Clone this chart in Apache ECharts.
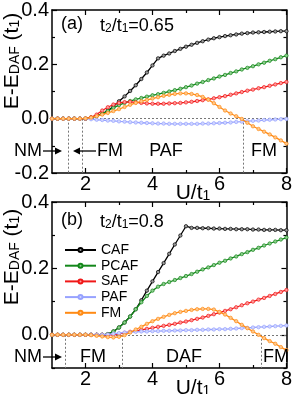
<!DOCTYPE html>
<html><head><meta charset="utf-8">
<script src="https://cdn.jsdelivr.net/npm/echarts@6/dist/echarts.min.js"></script>
<style>html,body{margin:0;padding:0;background:#fff}#c{width:295px;height:394px}</style>
</head><body><div id="c"></div>
<script>
const U = [1.000,1.167,1.333,1.500,1.667,1.833,2.000,2.167,2.333,2.500,2.667,2.833,3.000,3.167,3.333,3.500,3.667,3.833,4.000,4.167,4.333,4.500,4.667,4.833,5.000,5.167,5.333,5.500,5.667,5.833,6.000,6.167,6.333,6.500,6.667,6.833,7.000,7.167,7.333,7.500,7.667,7.833,8.000];
const names = ['CAF','PCAF','SAF','PAF','FM'];
const colors = ['#000000','#13871a','#f01818','#97a2ff','#ff8a14'];
const fills  = ['#9a9a9a','#8fcf8f','#ff9a9a','#d0d6ff','#ffc88a'];
const xTicks = [2,4,6,8];
const xMinor = [3,5,7];

// panel (a) t2/t1 = 0.65
const A_CAF  = [0,0,0,0,0,0,0,0.004,0.010,0.018,0.030,0.045,0.064,0.082,0.102,0.123,0.146,0.170,0.196,0.222,0.232,0.240,0.249,0.257,0.265,0.272,0.279,0.285,0.291,0.296,0.300,0.304,0.307,0.310,0.313,0.315,0.317,0.318,0.319,0.320,0.321,0.322,0.322];
const A_PCAF = [0,0,0,0,0,0,0,0.004,0.010,0.018,0.028,0.040,0.050,0.058,0.065,0.071,0.076,0.081,0.086,0.090,0.095,0.100,0.105,0.110,0.116,0.122,0.129,0.135,0.142,0.148,0.155,0.161,0.168,0.174,0.181,0.187,0.193,0.200,0.206,0.213,0.219,0.226,0.232];
const A_SAF  = [0,0,0,0,0,0,0,0.005,0.015,0.030,0.042,0.052,0.058,0.061,0.062,0.060,0.058,0.056,0.055,0.055,0.055,0.056,0.057,0.058,0.060,0.062,0.065,0.068,0.071,0.075,0.079,0.083,0.088,0.093,0.098,0.103,0.107,0.112,0.116,0.121,0.126,0.131,0.135];
const A_PAF  = [0,0,0,0,0,0,0,-0.002,-0.004,-0.005,-0.007,-0.008,-0.010,-0.011,-0.013,-0.014,-0.015,-0.016,-0.017,-0.018,-0.018,-0.019,-0.019,-0.019,-0.019,-0.019,-0.019,-0.018,-0.018,-0.017,-0.016,-0.015,-0.014,-0.012,-0.011,-0.009,-0.008,-0.007,-0.005,-0.004,-0.003,-0.002,-0.001];
const A_FM   = [0,0,0,0,0,0,0.001,0.004,0.009,0.015,0.021,0.028,0.035,0.043,0.051,0.058,0.064,0.069,0.074,0.079,0.084,0.088,0.091,0.093,0.093,0.091,0.087,0.080,0.070,0.057,0.043,0.030,0.019,0.009,-0.001,-0.015,-0.028,-0.038,-0.048,-0.058,-0.069,-0.080,-0.092];

// panel (b) t2/t1 = 0.8
const B_CAF  = [0,0,0,0,0,0,0,0,0,0,0.002,0.010,0.022,0.037,0.055,0.077,0.104,0.133,0.161,0.189,0.216,0.244,0.272,0.299,0.327,0.322,0.322,0.321,0.321,0.320,0.320,0.319,0.319,0.318,0.318,0.318,0.317,0.317,0.316,0.316,0.316,0.315,0.315];
const B_PCAF = [0,0,0,0,0,0,0,0,0,0,0.002,0.010,0.022,0.037,0.055,0.077,0.098,0.117,0.133,0.145,0.153,0.159,0.165,0.171,0.177,0.183,0.190,0.197,0.203,0.210,0.217,0.223,0.230,0.236,0.243,0.249,0.256,0.262,0.269,0.275,0.281,0.287,0.293];
const B_SAF  = [0,0,0,0,0,0,0,0,0,0,0,0,0.003,0.006,0.009,0.012,0.015,0.018,0.021,0.024,0.027,0.030,0.033,0.037,0.040,0.044,0.048,0.052,0.057,0.062,0.067,0.072,0.077,0.083,0.089,0.095,0.100,0.106,0.111,0.117,0.123,0.129,0.135];
const B_PAF  = [0,0,0,0,0,0,0,0,0,0,0.001,0.003,0.005,0.007,0.008,0.009,0.010,0.010,0.011,0.011,0.012,0.012,0.013,0.013,0.014,0.014,0.015,0.015,0.016,0.016,0.017,0.017,0.018,0.019,0.020,0.021,0.022,0.023,0.024,0.025,0.026,0.027,0.028];
const B_FM   = [0,0,0,0,0,0,0,-0.001,-0.003,-0.005,-0.007,-0.008,-0.006,-0.001,0.007,0.016,0.024,0.033,0.041,0.048,0.054,0.060,0.065,0.069,0.072,0.075,0.077,0.078,0.078,0.076,0.069,0.061,0.051,0.041,0.030,0.020,0.010,0.000,-0.010,-0.019,-0.027,-0.037,-0.046];

// phase boundaries (U/t1)
const A_bounds = [1.5, 1.9, 6.7];
const B_bounds = [1.4, 3.1, 7.25];

const FONT = "'Liberation Sans', Arial, sans-serif";
const chart = echarts.init(document.getElementById('c'), null, {renderer:'canvas'});

const grids = [
  {left:52, top:5, width:238, height:168},
  {left:52, top:202, width:238, height:166}
];
function xAx(g, pos, vals, len, labels, line){
  return {type:'value', gridIndex:g, min:1, max:8, interval:1, position:pos,
    axisLine:{show:line, onZero:false, lineStyle:{color:'#000', width:1.5}},
    axisTick:{show:true, inside:true, length:len, customValues:vals, lineStyle:{color:'#000', width:1.2}},
    axisLabel:{show:labels, customValues:xTicks, color:'#000', fontSize:20, fontFamily:FONT, margin:1},
    splitLine:{show:false}};
}
function yAx(g, pos, min, max, major, minor, labels, line){
  return {type:'value', gridIndex:g, min:min, max:max, interval:0.1, position:pos,
    axisLine:{show:line, onZero:false, lineStyle:{color:'#000', width:1.5}},
    axisTick:{show:true, inside:true, length: minor ? 3 : 5, customValues: minor || major, lineStyle:{color:'#000', width:1.2}},
    axisLabel:{show:labels, customValues:major, color:'#000', fontSize:20, fontFamily:FONT, margin:3,
      formatter: v => Math.abs(v) < 1e-9 ? '0.0' : v.toFixed(1)},
    splitLine:{show:false}};
}
const xAxis = [
  xAx(0,'bottom',xTicks,5,true,true), xAx(0,'bottom',xMinor,3,false,false),
  xAx(0,'top',xTicks,5,false,true),   xAx(0,'top',xMinor,3,false,false),
  xAx(1,'bottom',xTicks,5,true,true), xAx(1,'bottom',xMinor,3,false,false),
  xAx(1,'top',xTicks,5,false,true),   xAx(1,'top',xMinor,3,false,false)
];
const aMaj=[-0.2,0,0.2,0.4], aMin=[-0.1,0.1,0.3];
const bMaj=[0,0.2,0.4], bMin=[-0.1,0.1,0.3];
const yAxis = [
  yAx(0,'left',-0.2,0.4,aMaj,null,true,true), yAx(0,'left',-0.2,0.4,aMaj,aMin,false,false),
  yAx(0,'right',-0.2,0.4,aMaj,null,false,true), yAx(0,'right',-0.2,0.4,aMaj,aMin,false,false),
  yAx(1,'left',-0.1,0.4,bMaj,null,true,true), yAx(1,'left',-0.1,0.4,bMaj,bMin,false,false),
  yAx(1,'right',-0.1,0.4,bMaj,null,false,true), yAx(1,'right',-0.1,0.4,bMaj,bMin,false,false)
];

function mkSeries(vals, i, xi, yi, markLine){
  const s = {type:'line', name:names[i], xAxisIndex:xi, yAxisIndex:yi,
    data: U.map((u,k)=>[u, vals[k]]),
    symbol:'circle', symbolSize:3.4, showSymbol:true,
    lineStyle:{color:colors[i], width:1.3},
    itemStyle:{color:fills[i], borderColor:colors[i], borderWidth:0.7},
    emphasis:{disabled:true}, animation:false, z: 2+i};
  if (markLine) s.markLine = markLine;
  return s;
}
function mkMark(bounds, ymin){
  const d = [{yAxis:0}];
  bounds.forEach(b => d.push([{coord:[b,0]},{coord:[b,ymin]}]));
  return {silent:true, symbol:['none','none'], label:{show:false}, animation:false,
    lineStyle:{type:[2,2], color:'#777', width:1}, data:d, z:1};
}
const series = [];
[A_CAF,A_PCAF,A_SAF,A_PAF,A_FM].forEach((v,i)=>series.push(mkSeries(v,i,0,0, i===0?mkMark(A_bounds,-0.2):null)));
[B_CAF,B_PCAF,B_SAF,B_PAF,B_FM].forEach((v,i)=>series.push(mkSeries(v,i,4,4, i===0?mkMark(B_bounds,-0.1):null)));

function txt(x,y,t,size,align,rich,rot){
  const o = {type:'text', x:x, y:y, silent:true, z:100,
    style:{text:t, fontSize:size, fontFamily:FONT, fill:'#000', align:align||'center', verticalAlign:'middle', rich:rich}};
  if (rot) o.rotation = rot;
  return o;
}
const subRich = {a:{fontSize:18, fontFamily:FONT, lineHeight:22, verticalAlign:'bottom'}, s:{fontSize:12, fontFamily:FONT, lineHeight:15, verticalAlign:'bottom'}};
const yNameRich = {a:{fontSize:21, fontFamily:FONT, lineHeight:25, verticalAlign:'bottom'}, s:{fontSize:14, fontFamily:FONT, lineHeight:17, verticalAlign:'bottom'}};
const uRich = {a:{fontSize:21, fontFamily:FONT, lineHeight:25, verticalAlign:'bottom'}, s:{fontSize:14, fontFamily:FONT, lineHeight:17, verticalAlign:'bottom'}};
function arrow(x1,x2,y){
  const dir = x2 > x1 ? 1 : -1;
  return [
    {type:'line', silent:true, z:100, shape:{x1:x1, y1:y, x2:x2-dir*4, y2:y}, style:{stroke:'#000', lineWidth:1.3}},
    {type:'polygon', silent:true, z:100, shape:{points:[[x2,y],[x2-dir*7,y-3.5],[x2-dir*7,y+3.5]]}, style:{fill:'#000'}}
  ];
}
const graphic = [
  txt(72,24,'(a)',18),
  txt(100,24,'{a|t}{s|2}{a|/t}{s|1}{a|=0.65}',18,'left',subRich),
  txt(72,220,'(b)',18),
  txt(100,220,'{a|t}{s|2}{a|/t}{s|1}{a|=0.8}',18,'left',subRich),
  txt(10,61,'{a|E-E}{s|DAF}{a| (t}{s|1}{a|)}',21,'center',yNameRich,Math.PI/2),
  txt(10,257,'{a|E-E}{s|DAF}{a| (t}{s|1}{a|)}',21,'center',yNameRich,Math.PI/2),
  txt(193,191,'{a|U/t}{s|1}',21,'center',uRich),
  txt(193,386,'{a|U/t}{s|1}',21,'center',uRich),
  txt(42,151,'NM',18,'right'), ...arrow(43,62,151),
  ...arrow(96,73,151), txt(97,151,'FM',18,'left'),
  txt(166,151,'PAF',18), txt(264,151,'FM',18),
  txt(42,357,'NM',18,'right'), ...arrow(43,62,357),
  txt(93,357,'FM',18), txt(184,357,'DAF',18), txt(276,357,'FM',18)
];

chart.setOption({
  animation:false,
  backgroundColor:'#fff',
  grid: grids,
  xAxis: xAxis,
  yAxis: yAxis,
  legend:{data:names, orient:'vertical', left:59, top:238, itemWidth:31, itemHeight:5, itemGap:1.7,
    selectedMode:false, textStyle:{fontSize:14, fontFamily:FONT, color:'#000', lineHeight:14}},
  series: series,
  graphic: graphic
});
</script></body></html>
